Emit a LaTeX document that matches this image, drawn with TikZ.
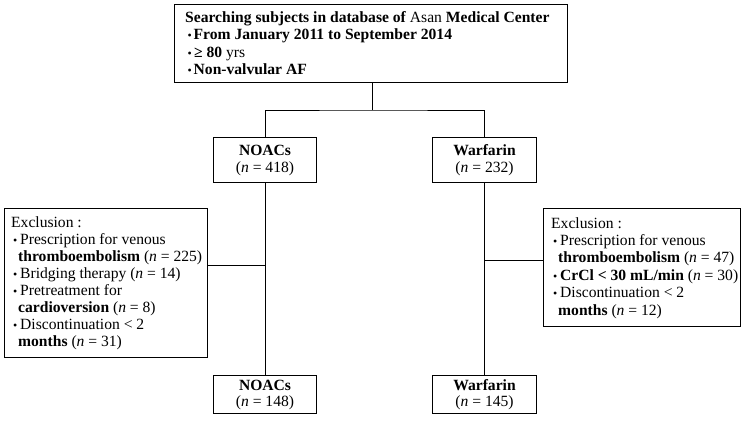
\documentclass[tikz,border=0pt]{standalone}
\usepackage{fontspec}
\setmainfont{Liberation Serif}
\begin{document}
\begin{tikzpicture}[x=1pt,y=-1pt,
  box/.style={draw,line width=1pt,inner sep=0pt,anchor=north west},
  grp/.style={box,align=center,font=\fontsize{15.6}{17}\selectfont},
  tl/.style={anchor=base west,inner sep=0pt,font=\fontsize{15.6}{17}\selectfont},
  bul/.style={anchor=base west,inner sep=0pt,font=\fontsize{12}{12}\selectfont},
  ln/.style={line width=0.85pt}]
\useasboundingbox (0,0) rectangle (742,423);
% top box
\node[box,minimum width=393pt,minimum height=78pt] (top) at (174,4) {};
\node[tl] (t1) at (185,22) {\textbf{Searching subjects in database of} Asan \textbf{Medical Center}};
\node[bul] (tb2) at (187.5,39.5) {•};
\node[tl] (t2) at (193.5,39.5) {\textbf{From January 2011 to September 2014}};
\node[bul] (tb3) at (187.5,57) {•};
\node[tl] (t3) at (194,57) {\textbf{≥ 80} yrs};
\node[bul] (tb4) at (187.5,74) {•};
\node[tl] (t4) at (193.5,74) {\textbf{Non-valvular AF}};
% group boxes
\node[grp,minimum width=103pt,minimum height=45pt] (noac1) at (213,137) {\textbf{NOACs}\\(\textit{n} = 418)};
\node[grp,minimum width=104pt,minimum height=45pt] (warf1) at (432,137) {\textbf{Warfarin}\\(\textit{n} = 232)};
\node[grp,minimum width=103pt,minimum height=38pt,text depth=3pt] (noac2) at (213,375) {\textbf{NOACs}\\[-1pt](\textit{n} = 148)};
\node[grp,minimum width=104pt,minimum height=38pt,text depth=3pt] (warf2) at (432,375) {\textbf{Warfarin}\\[-1pt](\textit{n} = 145)};
% left exclusion box
\node[box,minimum width=203pt,minimum height=149pt] (exl) at (4,208) {};
\node[tl] (l1) at (11,227) {Exclusion :};
\node[bul] (lb2) at (13,244.1) {•};
\node[tl] (l2) at (20,244.1) {Prescription for venous};
\node[tl] (l3) at (18,261.2) {\textbf{thromboembolism} (\textit{n} = 225)};
\node[bul] (lb4) at (13,278.3) {•};
\node[tl] (l4) at (20,278.3) {Bridging therapy (\textit{n} = 14)};
\node[bul] (lb5) at (13,295.4) {•};
\node[tl] (l5) at (20,295.4) {Pretreatment for};
\node[tl] (l6) at (18,312.5) {\textbf{cardioversion} (\textit{n} = 8)};
\node[bul] (lb7) at (13,329.6) {•};
\node[tl] (l7) at (20,329.6) {Discontinuation < 2};
\node[tl] (l8) at (18,346.7) {\textbf{months} (\textit{n} = 31)};
% right exclusion box
\node[box,minimum width=197pt,minimum height=118pt] (exr) at (543,208) {};
\node[tl] (r1) at (551,228) {Exclusion :};
\node[bul] (rb2) at (553,245.4) {•};
\node[tl] (r2) at (560,245.4) {Prescription for venous};
\node[tl] (r3) at (558,262.8) {\textbf{thromboembolism} (\textit{n} = 47)};
\node[bul] (rb4) at (553,280.2) {•};
\node[tl] (r4) at (560,280.2) {\textbf{CrCl < 30 mL/min} (\textit{n} = 30)};
\node[bul] (rb5) at (553,297.6) {•};
\node[tl] (r5) at (560,297.6) {Discontinuation < 2};
\node[tl] (r6) at (558,315) {\textbf{months} (\textit{n} = 12)};
% connectors
\coordinate (split) at (372,110);
\draw[ln] (top.south -| split) -- (split);
\draw[ln,line join=miter] (noac1.north) |- (split) -| (warf1.north);
\draw[ln] (noac1.south) -- (noac2.north);
\draw[ln] (warf1.south) -- (warf2.north);
\draw[ln] (exl.east |- 0,265) -- (noac1.south |- 0,265);
\draw[ln] (exr.west |- 0,260) -- (warf1.south |- 0,260);
\end{tikzpicture}
\end{document}
